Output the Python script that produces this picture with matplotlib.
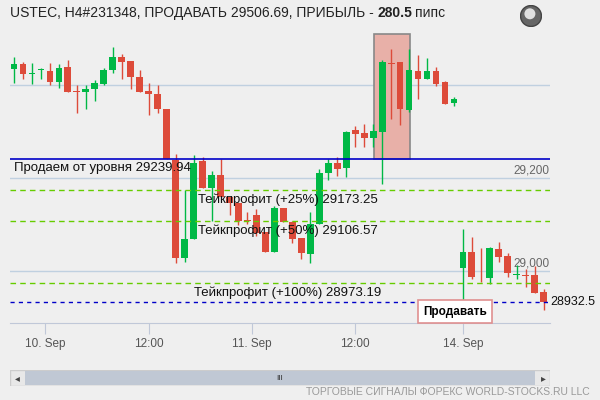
import matplotlib
matplotlib.use("Agg")
import matplotlib.pyplot as plt
from matplotlib.patches import Rectangle, Circle

plt.rcParams['font.family'] = ['Liberation Sans', 'DejaVu Sans']

opens  = [29434,29445,29423,29432,29430,29406,29438,29387,29385,29392,29402,29432,29460,29451,29417,29387,29380,29348,29239,29028,
          29069,29236,29178,29206,29160,29147,29110,29120,29084,29040,29136,29105,29070,29036,29102,29210,29232,29221,29303,29296,
          29287,29300,29447,29450,29347,29430,29414,29430,29406,29362,29006,29041,28990,28985,29047,29032,28992,28991,28991,28954]
highs  = [29460,29449,29448,29436,29448,29445,29453,29401,29400,29410,29436,29481,29466,29451,29432,29404,29400,29348,29252,29174,
          29249,29245,29214,29240,29160,29147,29127,29133,29084,29140,29136,29108,29070,29126,29219,29240,29245,29301,29312,29316,
          29316,29454,29478,29450,29478,29464,29458,29440,29409,29375,29090,29073,29049,29051,29062,29038,29013,29004,29011,28961]
lows   = [29405,29414,29402,29414,29400,29393,29386,29339,29348,29365,29400,29425,29413,29392,29385,29335,29339,29240,29016,29019,
          29069,29178,29108,29160,29121,29098,29100,29076,29040,29040,29105,29059,29026,29018,29100,29195,29205,29203,29267,29267,
          29267,29186,29328,29313,29341,29371,29414,29397,29360,29356,28888,28983,28976,28972,29019,28987,28983,28965,28952,28916]
closes = [29445,29423,29425,29434,29406,29436,29386,29385,29391,29404,29432,29460,29449,29418,29386,29380,29349,29240,29028,29069,
          29232,29178,29206,29160,29147,29107,29107,29082,29040,29136,29105,29068,29038,29102,29210,29232,29219,29299,29295,29287,
          29301,29450,29445,29349,29433,29414,29430,29403,29360,29370,29041,28987,28988,29049,29030,28995,28994,28988,28952,28932.5]

tick_pos = [3.5, 15, 26.5, 38, 50]
tick_labels = ["10. Sep", "12:00", "11. Sep", "12:00", "14. Sep"]
grid_levels = [29400, 29200, 29000]
grid_labels = {29200: "29,200", 29000: "29,000"}
sell_level = 29239.94
tp_levels = [29173.25, 29106.57, 28973.19]
tp_labels = ["Тейкпрофит (+25%) 29173.25", "Тейкпрофит (+50%) 29106.57", "Тейкпрофит (+100%) 28973.19"]
current = 28932.5
box_range = (40.1, 44.1, 29240, 29510)

BG = "#efefef"
GREEN = "#00b846"
RED = "#dd4b3a"

fig = plt.figure(figsize=(6, 4), dpi=100, facecolor=BG)
ax = fig.add_axes([10/600, 77/400, 540/600, 293/400])
ax.set_facecolor(BG)
ax.set_xlim(-0.45, 59.7)
ax.set_ylim(28887.8, 29518.6)
for s in ["top", "right", "left"]:
    ax.spines[s].set_visible(False)
ax.spines["bottom"].set_color("#c0c8d8")
ax.set_yticks([])
ax.set_xticks(tick_pos)
ax.set_xticklabels(tick_labels, fontsize=8.5, color="#555555")
ax.tick_params(axis="x", length=8, color="#c0c8d8", pad=3)

for g in grid_levels:
    ax.axhline(g, color="#c0d0e0", lw=1, zorder=1)
    if g in grid_labels:
        ax.text(59.6, g + 3, grid_labels[g], ha="right", va="bottom", fontsize=8.5, color="#666666")

x0, x1, p0, p1 = box_range
ax.add_patch(Rectangle((x0, p0), x1 - x0, p1 - p0, facecolor="#e8b0a8", edgecolor="#888888", lw=1.2, zorder=2))

for i, (o, h, l, c) in enumerate(zip(opens, highs, lows, closes)):
    col = GREEN if c >= o else RED
    ax.vlines(i, l, h, color=col, lw=1, zorder=3)
    bot = min(o, c); ht = max(abs(c - o), 1.5)
    ax.add_patch(Rectangle((i - 0.38, bot), 0.76, ht, facecolor=col, edgecolor="none", zorder=4))

ax.axhline(sell_level, color="#0000c8", lw=1.2, zorder=5)
ax.text(0.0, sell_level - 5, "Продаем от уровня 29239.94", fontsize=9.5, va="top", ha="left", color="#111111", zorder=6)
for lv, lb in zip(tp_levels, tp_labels):
    ax.axhline(lv, color="#66cc00", lw=1, ls=(0, (4, 3)), zorder=5)
    ax.text(30.5, lv - 6, lb, fontsize=9.5, ha="center", va="top", color="#111111", zorder=6)
ax.axhline(current, color="#0000c8", lw=1, ls=(0, (3, 3)), zorder=5)
ax.text(59.75, current, str(current), fontsize=9, ha="left", va="center", color="#111111", clip_on=False, zorder=6)

ax.text(49.1, 28912, "Продавать", fontsize=8.5, fontweight="bold", ha="center", va="center", zorder=7,
        bbox=dict(boxstyle="square,pad=0.45", facecolor="white", edgecolor="#e09090", lw=1.2))

t1 = fig.text(10/600, 1 - 13/400, "USTEC, H4#231348, ПРОДАВАТЬ 29506.69, ПРИБЫЛЬ - ", fontsize=10, va="center", color="#222222")
fig.canvas.draw()
bb = t1.get_window_extent()
t2 = fig.text(bb.x1/600, 1 - 13/400, "280.5", fontsize=10, fontweight="bold", va="center", color="#222222")
fig.canvas.draw()
bb2 = t2.get_window_extent()
fig.text(bb2.x1/600 + 3/600, 1 - 13/400, "пипс", fontsize=10, va="center", color="#222222")

gax = fig.add_axes([520/600, 1 - 27/400, 22/600, 22/400])
gax.set_xlim(-1, 1); gax.set_ylim(-1, 1); gax.axis("off")
gax.add_patch(Circle((0, 0), 0.95, facecolor="#666666", edgecolor="#444444"))
gax.add_patch(Circle((-0.1, 0.2), 0.5, facecolor="#e0e0e0", edgecolor="none"))

sax = fig.add_axes([10/600, 1 - 386/400, 540/600, 16/400])
sax.set_xlim(0, 540); sax.set_ylim(0, 16); sax.axis("off")
sax.add_patch(Rectangle((0, 0), 540, 16, facecolor="#e8e8e8", edgecolor="#cccccc"))
sax.add_patch(Rectangle((15, 1), 510, 14, facecolor="#c0c8d4", edgecolor="none"))
sax.text(270, 8, "III", ha="center", va="center", fontsize=6, color="#333333")
sax.text(7, 8, "◂", ha="center", va="center", fontsize=7, color="#444444", family="DejaVu Sans")
sax.text(533, 8, "▸", ha="center", va="center", fontsize=7, color="#444444", family="DejaVu Sans")

fig.text(590/600, 1 - 392/400, "ТОРГОВЫЕ СИГНАЛЫ ФОРЕКС WORLD-STOCKS.RU LLC", ha="right", va="center",
         fontsize=7.5, color="#999999")

fig.savefig("out.png", dpi=100, facecolor=BG)
